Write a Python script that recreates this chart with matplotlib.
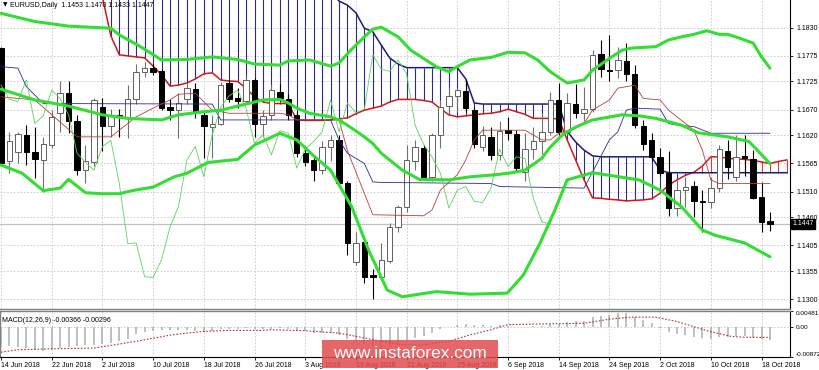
import matplotlib.pyplot as plt
from matplotlib.patches import Rectangle
import numpy as np

plt.rcParams['font.family'] = ['Liberation Sans', 'DejaVu Sans']

# EURUSD daily, 14 Jun 2018 .. 19 Oct 2018 (bar index 0..91)
opens = [1.1790, 1.1569, 1.1588, 1.1620, 1.1588, 1.1572, 1.1601, 1.1663, 1.1703, 1.1647,
         1.1552, 1.1568, 1.1675, 1.1638, 1.1660, 1.1656, 1.1690, 1.1743, 1.1751, 1.1746,
         1.1675, 1.1670, 1.1690, 1.1710, 1.1660, 1.1637, 1.1643, 1.1722, 1.1692, 1.1686,
         1.1728, 1.1642, 1.1660, 1.1705, 1.1690, 1.1660, 1.1585, 1.1572, 1.1552, 1.1598,
         1.1610, 1.1526, 1.1373, 1.1411, 1.1347, 1.1344, 1.1375, 1.1441, 1.1481, 1.1569,
         1.1595, 1.1539, 1.1621, 1.1677, 1.1697, 1.1707, 1.1669, 1.1597, 1.1617, 1.1582,
         1.1630, 1.1623, 1.1549, 1.1593, 1.1608, 1.1627, 1.1689, 1.1627, 1.1681, 1.1664,
         1.1671, 1.1779, 1.1747, 1.1747, 1.1765, 1.1740, 1.1638, 1.1610, 1.1578, 1.1546,
         1.1478, 1.1513, 1.1521, 1.1491, 1.1489, 1.1518, 1.1590, 1.1539, 1.1580, 1.1573,
         1.1500, 1.1453]
highs = [1.1792, 1.1627, 1.1627, 1.1640, 1.1636, 1.1617, 1.1669, 1.1725, 1.1725, 1.1660,
         1.1601, 1.1692, 1.1692, 1.1672, 1.1672, 1.1718, 1.1760, 1.1763, 1.1760, 1.1750,
         1.1690, 1.1702, 1.1722, 1.1722, 1.1670, 1.1659, 1.1724, 1.1728, 1.1712, 1.1736,
         1.1732, 1.1669, 1.1720, 1.1720, 1.1700, 1.1668, 1.1600, 1.1580, 1.1609, 1.1620,
         1.1620, 1.1530, 1.1432, 1.1417, 1.1360, 1.1409, 1.1448, 1.1484, 1.1601, 1.1611,
         1.1601, 1.1624, 1.1689, 1.1714, 1.1712, 1.1728, 1.1675, 1.1638, 1.1636, 1.1648,
         1.1656, 1.1630, 1.1625, 1.1636, 1.1664, 1.1705, 1.1722, 1.1702, 1.1721, 1.1715,
         1.1787, 1.1805, 1.1816, 1.1793, 1.1800, 1.1757, 1.1650, 1.1624, 1.1595, 1.1590,
         1.1535, 1.1539, 1.1530, 1.1513, 1.1539, 1.1601, 1.1610, 1.1620, 1.1621, 1.1591,
         1.1528, 1.1470]
lows = [1.1562, 1.1547, 1.1566, 1.1562, 1.1536, 1.1510, 1.1595, 1.1627, 1.1625, 1.1542,
        1.1526, 1.1560, 1.1589, 1.1617, 1.1617, 1.1615, 1.1681, 1.1734, 1.1738, 1.1669,
        1.1650, 1.1614, 1.1681, 1.1654, 1.1576, 1.1576, 1.1640, 1.1685, 1.1673, 1.1681,
        1.1617, 1.1617, 1.1650, 1.1686, 1.1650, 1.1578, 1.1560, 1.1530, 1.1545, 1.1570,
        1.1520, 1.1387, 1.1366, 1.1331, 1.1301, 1.1338, 1.1370, 1.1432, 1.1470, 1.1552,
        1.1537, 1.1530, 1.1595, 1.1660, 1.1665, 1.1665, 1.1595, 1.1590, 1.1572, 1.1572,
        1.1610, 1.1550, 1.1530, 1.1573, 1.1583, 1.1620, 1.1620, 1.1620, 1.1653, 1.1647,
        1.1665, 1.1733, 1.1725, 1.1731, 1.1725, 1.1634, 1.1592, 1.1570, 1.1540, 1.1463,
        1.1463, 1.1481, 1.1461, 1.1432, 1.1479, 1.1510, 1.1534, 1.1530, 1.1541, 1.1495,
        1.1432, 1.1433]
closes = [1.1566, 1.1608, 1.1622, 1.1588, 1.1573, 1.1603, 1.1656, 1.1703, 1.1647, 1.1552,
          1.1569, 1.1689, 1.1638, 1.1660, 1.1655, 1.1690, 1.1744, 1.1751, 1.1744, 1.1673,
          1.1670, 1.1684, 1.1712, 1.1666, 1.1638, 1.1642, 1.1718, 1.1690, 1.1686, 1.1728,
          1.1643, 1.1658, 1.1708, 1.1692, 1.1660, 1.1585, 1.1567, 1.1552, 1.1598, 1.1610,
          1.1526, 1.1409, 1.1410, 1.1344, 1.1343, 1.1377, 1.1441, 1.1481, 1.1572, 1.1598,
          1.1539, 1.1621, 1.1675, 1.1697, 1.1708, 1.1673, 1.1604, 1.1621, 1.1582, 1.1629,
          1.1624, 1.1556, 1.1593, 1.1608, 1.1627, 1.1689, 1.1627, 1.1683, 1.1664, 1.1671,
          1.1777, 1.1749, 1.1745, 1.1767, 1.1740, 1.1640, 1.1603, 1.1578, 1.1546, 1.1478,
          1.1513, 1.1520, 1.1491, 1.1489, 1.1518, 1.1593, 1.1559, 1.1578, 1.1575, 1.1497,
          1.1451, 1.1447]

date_ticks = list(range(0, 91, 6))
date_labels = ['14 Jun 2018', '22 Jun 2018', '2 Jul 2018', '10 Jul 2018', '18 Jul 2018',
               '26 Jul 2018', '3 Aug 2018', '13 Aug 2018', '21 Aug 2018', '29 Aug 2018',
               '6 Sep 2018', '14 Sep 2018', '24 Sep 2018', '2 Oct 2018', '10 Oct 2018',
               '18 Oct 2018']
price_ticks = [1.1830, 1.1775, 1.1725, 1.1670, 1.1620, 1.1565, 1.1510, 1.1460, 1.1405,
               1.1355, 1.1300]

# Bollinger bands
bb_up_x = [0, 4, 8, 13, 14, 16.5, 19, 22, 25, 28, 30, 33, 34, 36.5, 39, 40, 41.5, 43, 44, 45,
           47, 48.5, 50, 51.5, 53, 54, 55.5, 58, 60, 62, 63.5, 65, 67, 69, 70, 72, 73.5, 74.5,
           77.5, 79, 80.5, 82, 83.5, 85, 86, 87.5, 89, 90, 91]
bb_up = [1.1858, 1.1842, 1.1833, 1.1829, 1.1816, 1.1793, 1.1767, 1.1768, 1.1773, 1.1768,
         1.1759, 1.1757, 1.1765, 1.1767, 1.1755, 1.1761, 1.1788, 1.1812, 1.1827, 1.1831,
         1.1812, 1.1786, 1.1770, 1.1754, 1.1744, 1.1754, 1.1767, 1.1772, 1.1782, 1.1781,
         1.1767, 1.1744, 1.1722, 1.1728, 1.1747, 1.1770, 1.1786, 1.1790, 1.1793, 1.1806,
         1.1812, 1.1817, 1.1824, 1.1817, 1.1817, 1.1809, 1.1800, 1.1773, 1.1751]
bb_mid_x = [0, 4, 8, 12, 15, 19, 21, 24, 26, 28.5, 31, 33, 34, 35, 36.5, 39, 40, 41.5, 43, 44,
            45, 47.5, 49.5, 53, 55.5, 58.5, 60.5, 62, 64, 65, 66.5, 68, 70, 73.5, 75.5, 77.5,
            80.5, 82.5, 86, 88.5, 89.5, 91]
bb_mid = [1.1710, 1.1689, 1.1677, 1.1660, 1.1653, 1.1650, 1.1660, 1.1666, 1.1669, 1.1679,
          1.1689, 1.1690, 1.1683, 1.1673, 1.1663, 1.1656, 1.1650, 1.1634, 1.1617, 1.1604,
          1.1585, 1.1552, 1.1534, 1.1533, 1.1539, 1.1543, 1.1547, 1.1552, 1.1575, 1.1597,
          1.1622, 1.1636, 1.1650, 1.1660, 1.1658, 1.1653, 1.1640, 1.1625, 1.1617, 1.1608,
          1.1591, 1.1565]
bb_low_x = [0, 2.5, 5, 7, 8, 10, 12, 14, 15.5, 18, 20.5, 22, 24.5, 28, 30, 33, 35, 37, 39,
            41.5, 43.5, 45.7, 47.5, 51.5, 55.5, 59.9, 61.8, 63.8, 65.5, 67, 70, 75.5, 78,
            80.5, 83, 84.5, 88, 91]
bb_low = [1.1562, 1.1546, 1.1512, 1.1517, 1.1534, 1.1508, 1.1506, 1.1506, 1.1512, 1.1519,
          1.1539, 1.1546, 1.1567, 1.1573, 1.1601, 1.1624, 1.1611, 1.1580, 1.1552, 1.1481,
          1.1396, 1.1318, 1.1305, 1.1315, 1.1310, 1.1312, 1.1347, 1.1410, 1.1472, 1.1533,
          1.1547, 1.1533, 1.1513, 1.1481, 1.1435, 1.1425, 1.1410, 1.1383]

# Ichimoku
tenkan_x = [0, 4, 9, 13, 16, 18, 20, 21, 23, 25, 27, 33, 34, 35, 40, 41, 44, 50, 51, 52, 54,
            55, 56, 57, 62, 64, 65, 66, 68, 69, 70, 72, 73, 75, 76, 78, 79, 82, 83, 84, 85, 91]
tenkan = [1.1695, 1.1689, 1.1617, 1.1617, 1.1656, 1.1673, 1.1689, 1.1700, 1.1702, 1.1669,
          1.1663, 1.1663, 1.1660, 1.1650, 1.1650, 1.1590, 1.1465, 1.1463, 1.1474, 1.1513,
          1.1543, 1.1572, 1.1611, 1.1630, 1.1630, 1.1611, 1.1611, 1.1624, 1.1634, 1.1643,
          1.1669, 1.1689, 1.1712, 1.1718, 1.1692, 1.1689, 1.1669, 1.1630, 1.1591, 1.1533,
          1.1526, 1.1526]
kijun_x = [0, 2, 3, 5, 25, 26, 39, 40, 41, 43, 44, 45, 58, 59, 69, 72, 73, 74, 75, 78, 79, 80,
           82, 84, 91]
kijun = [1.1754, 1.1751, 1.1715, 1.1682, 1.1681, 1.1650, 1.1650, 1.1611, 1.1585, 1.1565,
         1.1529, 1.1528, 1.1526, 1.1520, 1.1517, 1.1611, 1.1627, 1.1669, 1.1673, 1.1671,
         1.1643, 1.1640, 1.1637, 1.1624, 1.1624]
span_first = 12  # spans are listed from bar 12 to bar 93
span_a = [1.1890, 1.1814, 1.1777, 1.1775, 1.1773, 1.1771, 1.1755, 1.1738, 1.1716, 1.1718,
          1.1722, 1.1730, 1.1740, 1.1742, 1.1728, 1.1726, 1.1725, 1.1712, 1.1695, 1.1685,
          1.1682, 1.1682, 1.1682, 1.1650, 1.1649, 1.1649, 1.1649, 1.1650, 1.1652, 1.1654,
          1.1662, 1.1669, 1.1673, 1.1677, 1.1685, 1.1690, 1.1690, 1.1690, 1.1688, 1.1685,
          1.1672, 1.1660, 1.1656, 1.1658, 1.1660, 1.1662, 1.1663, 1.1666, 1.1671, 1.1666,
          1.1661, 1.1653, 1.1653, 1.1653, 1.1652, 1.1611, 1.1572, 1.1533, 1.1498, 1.1497,
          1.1495, 1.1494, 1.1492, 1.1493, 1.1494, 1.1496, 1.1507, 1.1523, 1.1533, 1.1542,
          1.1548, 1.1560, 1.1578, 1.1578, 1.1575, 1.1574, 1.1573, 1.1571, 1.1568, 1.1565,
          1.1569, 1.1572]
span_b = [1.1900] * 28 + [1.1882, 1.1874, 1.1859, 1.1829, 1.1822, 1.1796, 1.1771, 1.1759] + \
         [1.1752] * 7 + [1.1730, 1.1683] + [1.1681] * 10 + \
         [1.1628, 1.1607, 1.1591, 1.1580] + [1.1578] * 7 + [1.1552] + [1.1547] * 15

# MACD(12,26,9)
macd_hist = [-0.0055, -0.0056, -0.0059, -0.0061, -0.0066, -0.0070, -0.0066, -0.0061, -0.0059,
             -0.0056, -0.0051, -0.0051, -0.0049, -0.0046, -0.0041, -0.0033, -0.0021, -0.0014,
             -0.0010, -0.0008, -0.0008, -0.0007, -0.0008, -0.0012, -0.0014, -0.0010, -0.0006,
             -0.0006, -0.0005, -0.0003, -0.0005, -0.0006, -0.0004, -0.0003, -0.0005, -0.0009,
             -0.0012, -0.0016, -0.0017, -0.0016, -0.0022, -0.0033, -0.0040, -0.0050, -0.0058,
             -0.0060, -0.0058, -0.0052, -0.0040, -0.0030, -0.0026, -0.0016, -0.0006, 0.0002,
             0.0008, 0.0010, 0.0008, 0.0007, 0.0005, 0.0006, 0.0005, 0.0002, 0.0001, 0.0003,
             0.0005, 0.0010, 0.0011, 0.0016, 0.0018, 0.0019, 0.0030, 0.0034, 0.0036, 0.0041,
             0.0041, 0.0030, 0.0022, 0.0012, -0.0002, -0.0013, -0.0019, -0.0022, -0.0027,
             -0.0031, -0.0034, -0.0029, -0.0027, -0.0025, -0.0026, -0.0030, -0.0034, -0.00366]
signal_x = [0, 2, 6, 11, 16, 20, 22, 24, 27, 31, 32, 36, 40, 43, 45, 47.5, 50, 53, 55.5, 58,
            60, 64, 69, 72, 74.5, 77.5, 80, 84, 86.5, 88, 91]
signal = [-0.0073, -0.0066, -0.0063, -0.0061, -0.0041, -0.0023, -0.0017, -0.0012, -0.0009,
          -0.0009, -0.0007, -0.0010, -0.0017, -0.0031, -0.0041, -0.0051, -0.0051, -0.0041,
          -0.0022, -0.0007, 0.0008, 0.0010, 0.0012, 0.0024, 0.0030, 0.0030, 0.0017, -0.0013,
          -0.0027, -0.0029, -0.00296]
macd_ticks = [0.00481, 0.0, -0.00872]

# ---------------------------------------------------------------------------
fig = plt.figure(figsize=(8.2, 3.7), dpi=100)
W, H = 820.0, 370.0
ax = fig.add_axes([0, 1 - 309 / H, 790 / W, 309 / H])
axm = fig.add_axes([0, 1 - 357 / H, 790 / W, 46 / H])

xlim = (-0.118, 93.37)
grid_kw = dict(color='#c8c8c8', lw=0.6, ls=(0, (2, 2)))
fs = 5.0

bars = np.arange(len(closes))

# grid
for t in date_ticks:
    ax.axvline(t, zorder=0, **grid_kw)
    axm.axvline(t, zorder=0, **grid_kw)
for p in price_ticks:
    ax.axhline(p, zorder=0, **grid_kw)
axm.axhline(0, zorder=0, **grid_kw)

# bid line
ax.axhline(closes[-1], color='#c0c0c0', lw=0.9, zorder=1)

# kumo hatch
sx = np.arange(span_first, span_first + len(span_a))
sa = np.array(span_a)
sb = np.array(span_b)
up = sb >= sa
ax.vlines(sx[up], sa[up], sb[up], color='#2b2b8c', lw=0.8, zorder=1)
ax.vlines(sx[~up], sa[~up], sb[~up], color='#e03a3a', lw=0.8, zorder=1)
ax.plot(sx, sa, color='#d01818', lw=1.1, zorder=2)
ax.plot(sx, sb, color='#1c1c78', lw=1.1, zorder=2)

# candles
for i in bars:
    o, h, l, c = opens[i], highs[i], lows[i], closes[i]
    if c >= o:
        ax.vlines(i, l, h, color='#707070', lw=0.8, zorder=3)
        ax.add_patch(Rectangle((i - 0.32, o), 0.64, max(c - o, 0.00015),
                               facecolor='white', edgecolor='#606060', lw=0.7, zorder=4))
    else:
        ax.vlines(i, l, h, color='black', lw=0.8, zorder=3)
        ax.add_patch(Rectangle((i - 0.32, c), 0.64, max(o - c, 0.00015),
                               facecolor='black', edgecolor='black', lw=0.7, zorder=4))

# ichimoku thin lines
ax.plot(kijun_x, kijun, color='#2a2a90', lw=0.6, zorder=5)
ax.plot(tenkan_x, tenkan, color='#b04040', lw=0.6, zorder=5)
chikou_x = bars[26:] - 26
ax.plot(chikou_x, closes[26:], color='#5ad45a', lw=0.6, zorder=5)

# bollinger
for bx, by in ((bb_up_x, bb_up), (bb_mid_x, bb_mid), (bb_low_x, bb_low)):
    ax.plot(bx, by, color='#33dd33', lw=2.2, solid_capstyle='round', zorder=6)

ax.set_xlim(*xlim)
ax.set_ylim(1.12811, 1.18840)
ax.yaxis.tick_right()
ax.set_yticks(price_ticks)
ax.set_yticklabels(['%.4f' % p for p in price_ticks])
ax.tick_params(axis='y', length=2.5, width=0.6, pad=2, labelsize=fs, colors='black')
ax.set_xticks([])
for s in ('top', 'left'):
    ax.spines[s].set_visible(False)
ax.spines['right'].set_linewidth(0.8)
ax.spines['bottom'].set_color('#808080')
ax.spines['bottom'].set_linewidth(1.0)

# current price tag
ax.text(1.003, closes[-1], '%.4f' % closes[-1], transform=ax.get_yaxis_transform(),
        ha='left', va='center', fontsize=fs, color='white',
        bbox=dict(boxstyle='square,pad=0.15', facecolor='black', edgecolor='black'))

ax.text(0.004, 0.992, '\u25bc', transform=ax.transAxes, ha='left', va='top',
        fontsize=4.2, color='black', family=['DejaVu Sans'])
ax.text(0.013, 0.993, 'EURUSD,Daily  1.1453 1.1470 1.1433 1.1447', transform=ax.transAxes,
        ha='left', va='top', fontsize=fs, color='black')

# MACD panel
axm.vlines(bars, 0, macd_hist, color='#b4b4b4', lw=1.2, zorder=2)
axm.plot(signal_x, signal, color='#b03838', lw=0.8, ls=(0, (1.5, 1.5)), zorder=3)
axm.set_xlim(*xlim)
axm.set_ylim(-0.00872, 0.00481)
axm.yaxis.tick_right()
axm.set_yticks(macd_ticks)
axm.set_yticklabels(['0.00481', '0.00', '-0.00872'])
axm.tick_params(axis='y', length=2.5, width=0.6, pad=1.5, labelsize=4.6)
labs = axm.get_yticklabels()
labs[0].set_va('top')
labs[2].set_va('bottom')
axm.set_xticks(date_ticks)
axm.set_xticklabels(date_labels, ha='left')
axm.tick_params(axis='x', length=2, width=0.6, pad=1.5, labelsize=fs)
axm.spines['top'].set_color('#808080')
axm.spines['top'].set_linewidth(1.0)
axm.spines['left'].set_color('#808080')
axm.spines['right'].set_linewidth(0.8)
axm.spines['bottom'].set_linewidth(0.8)
axm.text(0.003, 0.86, 'MACD(12,26,9) -0.00366 -0.00296', transform=axm.transAxes,
         ha='left', va='top', fontsize=fs, color='black')

# watermark
fig.patches.append(Rectangle((322 / W, 1 - 368 / H), 176 / W, 28 / H, transform=fig.transFigure,
                             facecolor='#e24c50', edgecolor='none', alpha=0.85, zorder=10))
fig.text(410 / W, 1 - 354 / H, 'www.instaforex.com', ha='center', va='center',
         fontsize=12.4, color='white', zorder=11)

fig.savefig('out.png', dpi=100)
